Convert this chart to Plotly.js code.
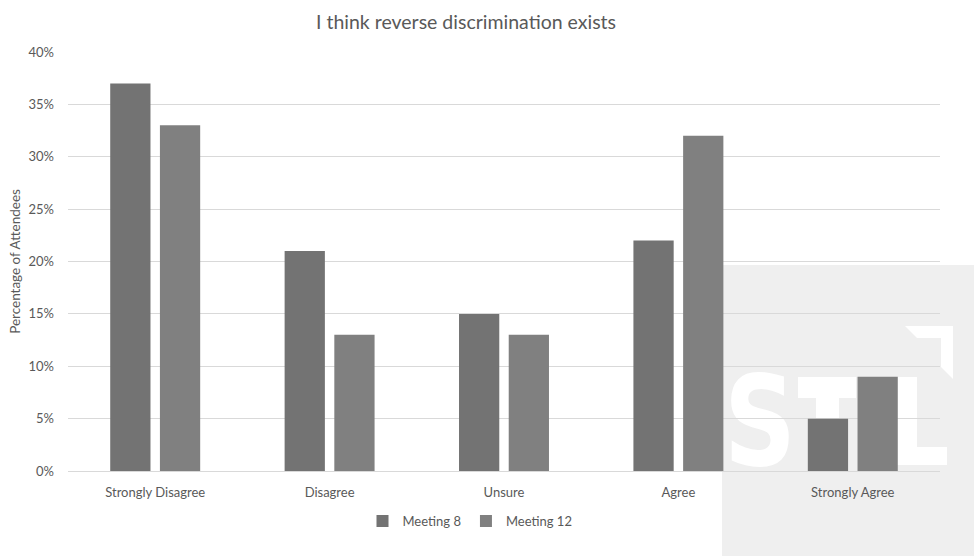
<!DOCTYPE html>
<html>
<head>
<meta charset="utf-8">
<script src="https://cdn.plot.ly/plotly-3.0.1.min.js"></script>
<style>html,body{margin:0;padding:0;background:#fff;}#chart{width:974px;height:556px;}</style>
</head>
<body>
<div id="chart"></div>
<script>
var categories = ["Strongly Disagree", "Disagree", "Unsure", "Agree", "Strongly Agree"];
var meeting8 = [37, 21, 15, 22, 5];
var meeting12 = [33, 13, 13, 32, 9];
var seriesNames = ["Meeting 8", "Meeting 12"];
var tickValues = [0, 5, 10, 15, 20, 25, 30, 35, 40];
var tickLabels = tickValues.map(function (v) { return v + '%'; });

var W = 974, H = 556;
var M = {l: 68, r: 34, t: 52, b: 85};
var pw = W - M.l - M.r, ph = H - M.t - M.b;

var font = "Lato, 'Open Sans', sans-serif";
var txt = '#595959';

// watermark overlay (decoration, pixel coordinates of the whole figure)
var svg = '<svg xmlns="http://www.w3.org/2000/svg" width="974" height="556" viewBox="0 0 974 556">' +
  '<rect x="722" y="265" width="252" height="291" fill="#efefef"/>' +
  '<text x="724" y="465" font-family="DejaVu Sans" font-weight="bold" font-size="125" fill="#ffffff" textLength="72" lengthAdjust="spacingAndGlyphs">S</text>' +
  '<rect x="798" y="377" width="58" height="21" fill="#ffffff"/>' +
  '<rect x="816" y="377" width="23" height="88" fill="#ffffff"/>' +
  '<rect x="897" y="377" width="20" height="88" fill="#ffffff"/>' +
  '<rect x="897" y="447" width="50" height="18" fill="#ffffff"/>' +
  '<polygon points="905,326 953,326 953,379 941,367 941,338 917,338" fill="#ffffff"/>' +
  '</svg>';
var src = 'data:image/svg+xml;charset=utf-8,' + encodeURIComponent(svg);

var traces = [
  {type: 'bar', name: seriesNames[0], x: categories, y: meeting8, marker: {color: '#737373'}},
  {type: 'bar', name: seriesNames[1], x: categories, y: meeting12, marker: {color: '#808080'}}
];

var layout = {
  width: W, height: H,
  margin: M,
  paper_bgcolor: '#ffffff',
  plot_bgcolor: 'rgba(0,0,0,0)',
  font: {family: font, color: txt, size: 13},
  title: {text: 'I think reverse discrimination exists', font: {family: font, size: 19.5, color: txt},
          x: 466 / W, xanchor: 'center', xref: 'container', y: 1 - 22 / H, yanchor: 'middle', yref: 'container'},
  barmode: 'group',
  bargap: 0.43,
  bargroupgap: 0.19,
  xaxis: {
    showgrid: false, zeroline: false, showline: true, linecolor: '#d9d9d9', linewidth: 1,
    ticks: '', tickfont: {family: font, size: 13, color: txt}, ticklabelstandoff: 9, fixedrange: true,
    automargin: false
  },
  yaxis: {
    range: [0, 40], tickmode: 'array', tickvals: tickValues, ticktext: tickLabels,
    showgrid: true, gridcolor: '#d9d9d9', gridwidth: 1,
    zeroline: false, showline: false, ticks: '', tickfont: {family: font, size: 13, color: txt},
    ticklabelstandoff: 13, automargin: false,
    title: {text: 'Percentage of Attendees', font: {family: font, size: 13.5, color: txt}, standoff: 4},
    fixedrange: true
  },
  showlegend: true,
  legend: {orientation: 'h', x: (470 - M.l) / pw, xanchor: 'center', y: (471 - 521) / ph, yanchor: 'middle',
           font: {family: font, size: 13, color: txt}, bgcolor: 'rgba(0,0,0,0)', traceorder: 'normal',
           itemwidth: 30},
  images: [{
    source: src, xref: 'paper', yref: 'paper',
    x: -M.l / pw, y: 1 + M.t / ph, sizex: W / pw, sizey: H / ph,
    xanchor: 'left', yanchor: 'top', sizing: 'stretch', layer: 'below', opacity: 1
  }]
};

Plotly.newPlot('chart', traces, layout, {displayModeBar: false, staticPlot: true});
</script>
</body>
</html>
